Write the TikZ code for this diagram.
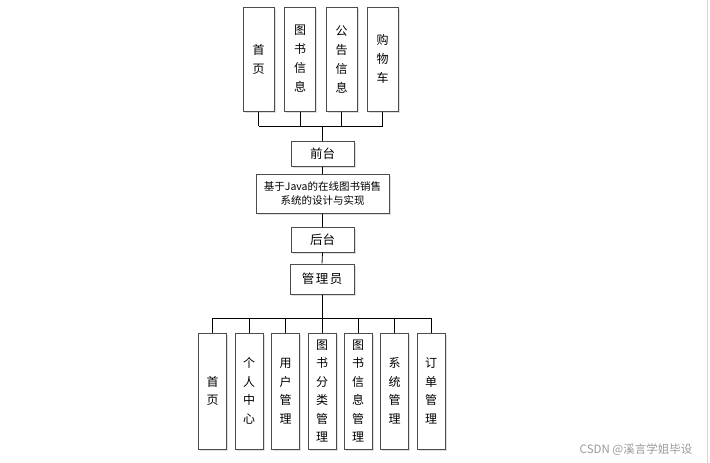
\documentclass[tikz,border=0pt]{standalone}
\usepackage{fontspec}
\newfontfamily\cjk{Noto Sans CJK SC}
\usetikzlibrary{calc, positioning, shadows}

\tikzset{
  mod/.style={draw=black!70, line width=1pt, fill=white, inner sep=0pt, align=center,
    drop shadow={shadow xshift=1.5pt, shadow yshift=-1.5pt, opacity=0.25}},
  topbox/.style={mod, minimum width=31pt, minimum height=104pt, font=\cjk\fontsize{12}{19}\selectfont},
  botbox/.style={mod, minimum width=28pt, minimum height=116pt, font=\cjk\fontsize{12}{18.5}\selectfont},
  hbox/.style={mod, minimum width=63pt, minimum height=25pt, font=\cjk\fontsize{12.5}{15}\selectfont},
  link/.style={black, line width=0.8pt},
}

\begin{document}
\begin{tikzpicture}[x=1pt, y=-1pt]
    \useasboundingbox (0,0) rectangle (710,463);

    % 前台模块
    \foreach \i/\x/\t in {1/258.5/{首\\页}, 2/300/{图\\书\\信\\息}, 3/341.5/{公\\告\\信\\息}, 4/382.5/{购\\物\\车}} {
        \node[topbox] (t\i) at (\x, 59) {\t};
    }

    % 中间主干
    \node[hbox] (qiantai) at (322.5, 153.5) {前台};
    \node[mod, minimum width=133pt, minimum height=39pt, font=\cjk\fontsize{10.5}{13.5}\selectfont] (title) at (322.5, 193.5)
        {基于Java的在线图书销售\\系统的设计与实现};
    \node[hbox] (houtai) at (322.5, 239.5) {后台};
    \node[hbox, minimum width=64pt, minimum height=30pt] (admin) at (322, 279) {管\hspace{1.5pt}理\hspace{1.5pt}员};

    % 后台模块
    \foreach \i/\x/\t in {1/212.5/{首\\页}, 2/249/{个\\人\\中\\心}, 3/285.5/{用\\户\\管\\理}, 4/322/{图\\书\\分\\类\\管\\理},
                          5/358/{图\\书\\信\\息\\管\\理}, 6/394.5/{系\\统\\管\\理}, 7/431/{订\\单\\管\\理}} {
        \node[botbox] (b\i) at (\x, 391) {\t};
    }

    % 连线：上
    \coordinate (topbus) at (322.5, 126);
    \foreach \i in {1,...,4} {
        \draw[link] (t\i.south) -- (t\i.south |- topbus);
    }
    \draw[link] (t1.south |- topbus) -- (t4.south |- topbus);
    \draw[link] (topbus) -- (qiantai.north);
    \draw[link] (qiantai.south) -- (title.north);
    \draw[link] (title.south) -- (houtai.north);
    \draw[link] (houtai.south) -- (admin.north);

    % 连线：下
    \coordinate (botbus) at (322, 318);
    \draw[link] (admin.south) -- (botbus);
    \draw[link] (b1.north |- botbus) -- (b7.north |- botbus);
    \foreach \i in {1,...,7} {
        \draw[link] (b\i.north |- botbus) -- (b\i.north);
    }

    % 水印
    \node[black!40, font=\cjk\fontsize{11.5}{13}\selectfont] (mark) at (636, 450) {CSDN @溪言学姐毕设};
    \draw[black!15] (707, 0) -- (707, 463);
\end{tikzpicture}
\end{document}
